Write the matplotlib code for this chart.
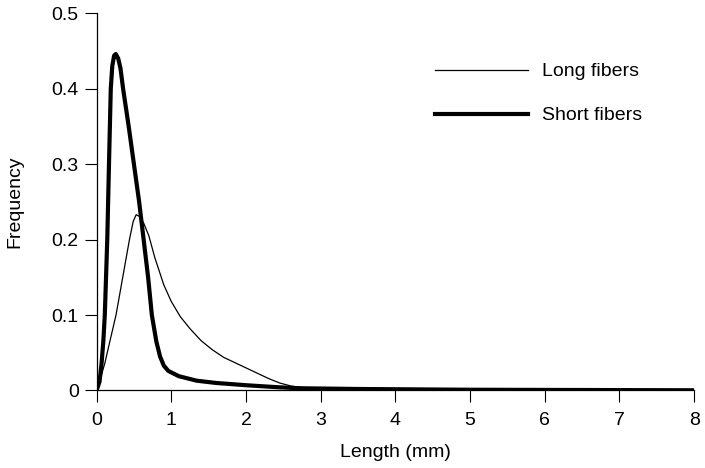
import matplotlib.pyplot as plt

plt.rcParams['font.family'] = ['Liberation Sans', 'DejaVu Sans']

# fiber length distributions
long_len = [0, 0.04, 0.11, 0.18, 0.26, 0.35, 0.44, 0.49, 0.53, 0.57, 0.63, 0.7,
            0.78, 0.9, 1.0, 1.12, 1.25, 1.4, 1.55, 1.7, 1.85, 2.0, 2.15, 2.3, 2.45,
            2.6, 2.75, 3.0, 4, 5, 6, 7, 8]
long_freq = [0, 0.012, 0.036, 0.066, 0.1, 0.15, 0.2, 0.224, 0.233, 0.231, 0.222, 0.205,
             0.176, 0.14, 0.118, 0.098, 0.082, 0.066, 0.054, 0.044, 0.037, 0.03, 0.023,
             0.016, 0.01, 0.006, 0.004, 0.003, 0.002, 0.0015, 0.001, 0.0006, 0.0003]

short_len = [0, 0.04, 0.067, 0.09, 0.11, 0.143, 0.166, 0.19, 0.21, 0.235, 0.257, 0.29,
             0.32, 0.355, 0.43, 0.5, 0.57, 0.63, 0.69, 0.74, 0.8, 0.85, 0.9, 0.96,
             1.1, 1.34, 1.6, 2.0, 2.4, 2.7, 3.5, 5, 8]
short_freq = [0, 0.012, 0.036, 0.065, 0.1, 0.2, 0.3, 0.4, 0.43, 0.444, 0.446, 0.44,
              0.427, 0.4, 0.35, 0.3, 0.25, 0.2, 0.15, 0.1, 0.065, 0.045, 0.033, 0.026,
              0.019, 0.013, 0.01, 0.007, 0.0045, 0.003, 0.002, 0.001, 0.0003]

x_ticks = [0, 1, 2, 3, 4, 5, 6, 7, 8]
y_ticks = [0, 0.1, 0.2, 0.3, 0.4, 0.5]
y_labels = ['0', '0.1', '0.2', '0.3', '0.4', '0.5']

fig = plt.figure(figsize=(7.05, 4.68), dpi=100)
ax = fig.add_axes([0.137, 0.1656, 0.8475, 0.806])

ax.plot(long_len, long_freq, color='black', lw=0.9, label='Long fibers')
ax.plot(short_len, short_freq, color='black', lw=3.0, label='Short fibers',
        solid_joinstyle='round')

ax.set_xlim(0, 8)
ax.set_ylim(0, 0.5)
ax.set_xticks(x_ticks)
ax.set_yticks(y_ticks)
ax.set_yticklabels(y_labels)
ax.tick_params(direction='out', length=8.6, width=0.8, labelsize=14)
ax.tick_params(axis='y', pad=4.3)
ax.tick_params(axis='x', pad=7)

for side in ['top', 'right']:
    ax.spines[side].set_visible(False)
for side in ['left', 'bottom']:
    ax.spines[side].set_linewidth(0.9)

ax.set_xlabel('Length (mm)', fontsize=14)
ax.set_ylabel('Frequency', fontsize=14)
ax.xaxis.set_label_coords(0.5, -0.141)
ax.yaxis.set_label_coords(-0.123, 0.5)

ax.legend(loc='upper left', bbox_to_anchor=(0.566, 0.869), frameon=False,
          fontsize=14, handlelength=4.8, handletextpad=0.72, labelspacing=1.36,
          borderpad=0, borderaxespad=0)

fig.savefig('out.png', dpi=100)
